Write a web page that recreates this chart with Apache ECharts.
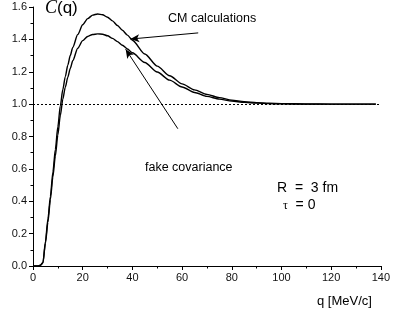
<!DOCTYPE html>
<html>
<head>
<meta charset="utf-8">
<script src="https://cdn.jsdelivr.net/npm/echarts@6/dist/echarts.min.js"></script>
<style>
html, body { margin: 0; padding: 0; background: #fff; }
#chart { width: 393px; height: 313px; }
</style>
</head>
<body>
<div id="chart"></div>
<script>
// q grid [MeV/c]
var qValues = [0, 2, 3, 4, 5, 6, 7, 8, 9, 10, 11, 12, 13, 14, 15, 16, 18, 20, 22, 24, 26, 28, 30, 32, 34, 36, 38, 40, 45, 50, 55, 60, 65, 70, 75, 80, 85, 90, 95, 100, 110, 120, 130, 138];
// CM calculations
var cmValues = [0, 0, 0.005, 0.02, 0.15, 0.29, 0.43, 0.58, 0.72, 0.86, 0.99, 1.09, 1.17, 1.24, 1.30, 1.35, 1.43, 1.49, 1.528, 1.55, 1.557, 1.552, 1.537, 1.514, 1.486, 1.456, 1.426, 1.395, 1.31, 1.235, 1.175, 1.125, 1.088, 1.06, 1.04, 1.025, 1.015, 1.009, 1.005, 1.003, 1.001, 1.0, 1.0, 1.0];
// fake covariance
var fakeValues = [0, 0, 0.005, 0.02, 0.14, 0.27, 0.41, 0.55, 0.68, 0.81, 0.93, 1.03, 1.105, 1.165, 1.22, 1.268, 1.345, 1.392, 1.418, 1.43, 1.434, 1.432, 1.422, 1.406, 1.386, 1.364, 1.341, 1.317, 1.257, 1.198, 1.148, 1.106, 1.072, 1.048, 1.031, 1.019, 1.011, 1.006, 1.003, 1.0015, 1.0, 1.0, 1.0, 1.0];

var refLevel = 1.0;
// annotation arrows: [from, to] in data coords
var cmArrow = [[66.5, 1.44], [39.2, 1.402]];
var fakeArrow = [[58.3, 0.848], [37.3, 1.339]];

function pairs(xs, ys) {
    var out = [];
    for (var i = 0; i < xs.length; i++) out.push([xs[i], ys[i]]);
    return out;
}

var font = 'Arial, "Liberation Sans", sans-serif';

var option = {
    animation: false,
    backgroundColor: '#fff',
    grid: { left: 33, right: 7, top: 7, bottom: 47 },
    xAxis: {
        type: 'value',
        min: 0, max: 140, interval: 20,
        axisLine: { lineStyle: { color: '#000', width: 1 } },
        axisTick: { show: true, length: 4, lineStyle: { color: '#000' } },
        minorTick: { show: true, splitNumber: 2, length: 2.5, lineStyle: { color: '#000' } },
        splitLine: { show: false },
        axisLabel: { color: '#111', fontSize: 11, fontFamily: font, margin: 6 }
    },
    yAxis: {
        type: 'value',
        min: 0, max: 1.6, interval: 0.2,
        axisLine: { show: true, lineStyle: { color: '#000', width: 1 } },
        axisTick: { show: true, length: 4, lineStyle: { color: '#000' } },
        minorTick: { show: true, splitNumber: 2, length: 2.5, lineStyle: { color: '#000' } },
        splitLine: { show: false },
        axisLabel: {
            color: '#111', fontSize: 11, fontFamily: font, margin: 6,
            formatter: function (v) { return v.toFixed(1); }
        }
    },
    series: [
        {
            name: 'CM calculations',
            type: 'line',
            data: pairs(qValues, cmValues),
            showSymbol: false,
            smooth: 0.25,
            smoothMonotone: 'x',
            lineStyle: { color: '#000', width: 1.4 },
            markLine: {
                silent: true,
                symbol: ['none', 'none'],
                label: { show: false },
                lineStyle: { color: '#000', width: 1, type: [2, 2] },
                data: [{ yAxis: refLevel }]
            }
        },
        {
            name: 'fake covariance',
            type: 'line',
            data: pairs(qValues, fakeValues),
            showSymbol: false,
            smooth: 0.25,
            smoothMonotone: 'x',
            lineStyle: { color: '#000', width: 1.4 },
            markLine: {
                silent: true,
                symbol: ['none', 'arrow'],
                symbolSize: [6, 9],
                label: { show: false },
                lineStyle: { color: '#000', width: 1, type: 'solid' },
                itemStyle: { color: '#000' },
                data: [
                    [{ coord: cmArrow[0] }, { coord: cmArrow[1] }],
                    [{ coord: fakeArrow[0] }, { coord: fakeArrow[1] }]
                ]
            }
        }
    ],
    graphic: [
        {
            type: 'text', left: 45, top: -1,
            style: {
                text: '{c|C}{q|(q)}',
                rich: {
                    c: { fontFamily: '"Liberation Serif", "Times New Roman", serif', fontStyle: 'italic', fontSize: 18, fill: '#000' },
                    q: { fontFamily: font, fontSize: 17, fill: '#000' }
                }
            }
        },
        {
            type: 'text', left: 168, top: 12,
            style: { text: 'CM calculations', font: '12.5px Arial, "Liberation Sans", sans-serif', fill: '#000' }
        },
        {
            type: 'text', left: 145, top: 161,
            style: { text: 'fake covariance', font: '12.5px Arial, "Liberation Sans", sans-serif', fill: '#000' }
        },
        {
            type: 'text', left: 277, top: 181,
            style: { text: 'R  =  3 fm', font: '14px Arial, "Liberation Sans", sans-serif', fill: '#000' }
        },
        {
            type: 'text', left: 283, top: 198,
            style: {
                text: '{t|τ}{e|  = 0}',
                rich: {
                    t: { fontFamily: '"Liberation Serif", "Times New Roman", serif', fontSize: 12, fill: '#000', verticalAlign: 'bottom' },
                    e: { fontFamily: font, fontSize: 14, fill: '#000' }
                }
            }
        },
        {
            type: 'text', left: 317, top: 295,
            style: { text: 'q [MeV/c]', font: '13px Arial, "Liberation Sans", sans-serif', fill: '#000' }
        }
    ]
};

var myChart = echarts.init(document.getElementById('chart'));
myChart.setOption(option);
</script>
</body>
</html>
